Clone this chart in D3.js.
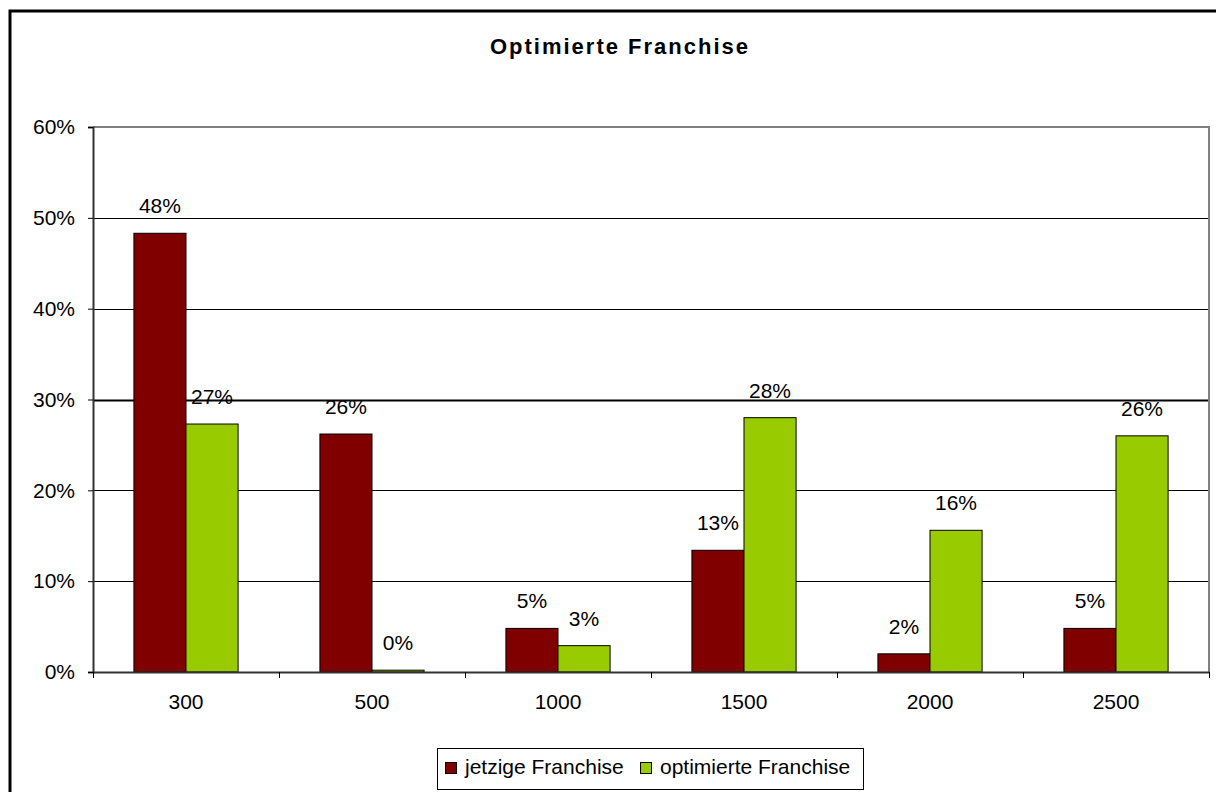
<!DOCTYPE html>
<meta charset="utf-8">
<script src="https://d3js.org/d3.v7.min.js"></script>
<style>
  body { margin: 0; background: #fff; }
  text { font-family: "Liberation Sans", Arial, sans-serif; }
</style>
<div id="my_dataviz"></div>
<script>

// data
var categories = ["300", "500", "1000", "1500", "2000", "2500"];
var seriesNames = ["jetzige Franchise", "optimierte Franchise"];
var jetzige = [0.483, 0.262, 0.048, 0.134, 0.020, 0.048];
var optimierte = [0.273, 0.002, 0.029, 0.280, 0.156, 0.260];
var yTicks = [0, 0.1, 0.2, 0.3, 0.4, 0.5, 0.6];

var W = 1216, H = 792;
var margin = {top: 127, right: 7, bottom: 120, left: 93},
    width = W - margin.left - margin.right,
    height = H - margin.top - margin.bottom;

var svg = d3.select("#my_dataviz")
  .append("svg")
    .attr("width", W)
    .attr("height", H);

// outer chart frame
svg.append("rect")
  .attr("x", 10).attr("y", 11)
  .attr("width", W + 20).attr("height", H + 20)
  .attr("fill", "none").attr("stroke", "#000").attr("stroke-width", 3);

// title
svg.append("text")
  .attr("x", 620).attr("y", 54)
  .attr("text-anchor", "middle")
  .style("font-size", "22px").style("font-weight", "bold")
  .style("letter-spacing", "2px")
  .text("Optimierte Franchise");

var g = svg.append("g")
  .attr("transform", "translate(" + margin.left + "," + margin.top + ")");

var x = d3.scaleBand()
  .domain(categories)
  .range([0, width])
  .paddingInner(0.44)
  .paddingOuter(0.22);

var xSub = d3.scaleBand()
  .domain(seriesNames)
  .range([0, x.bandwidth()]);

var y = d3.scaleLinear()
  .domain([0, 0.6])
  .range([height, 0]);

var color = d3.scaleOrdinal()
  .domain(seriesNames)
  .range(["#800000", "#99CC00"]);

// gridlines
g.append("g")
  .selectAll("line")
  .data(yTicks.slice(1, -1))
  .enter().append("line")
    .attr("x1", 0).attr("x2", width)
    .attr("y1", function(d) { return Math.round(y(d)) + 0.5; })
    .attr("y2", function(d) { return Math.round(y(d)) + 0.5; })
    .attr("stroke", "#000")
    .attr("stroke-width", function(d) { return Math.abs(d - 0.3) < 1e-9 ? 2 : 1; });

// plot frame (top and right)
g.append("path")
  .attr("d", "M0,0H" + width + "V" + height)
  .attr("fill", "none").attr("stroke", "#808080").attr("stroke-width", 2);

// bars
var rows = categories.map(function(c, i) {
  return {cat: c, values: [{key: seriesNames[0], value: jetzige[i]}, {key: seriesNames[1], value: optimierte[i]}]};
});

var groups = g.append("g")
  .selectAll("g")
  .data(rows)
  .enter().append("g")
    .attr("transform", function(d) { return "translate(" + x(d.cat) + ",0)"; });

groups.selectAll("rect")
  .data(function(d) { return d.values; })
  .enter().append("rect")
    .attr("x", function(d) { return xSub(d.key); })
    .attr("y", function(d) { return y(d.value); })
    .attr("width", xSub.bandwidth())
    .attr("height", function(d) { return height - y(d.value); })
    .attr("fill", function(d) { return color(d.key); })
    .attr("stroke", "#000")
    .attr("stroke-width", 1);

groups.selectAll(".lbl")
  .data(function(d) { return d.values; })
  .enter().append("text")
    .attr("class", "lbl")
    .attr("x", function(d) { return xSub(d.key) + xSub.bandwidth() / 2; })
    .attr("y", function(d) { return y(d.value) - 20; })
    .attr("text-anchor", "middle")
    .style("font-size", "21px")
    .text(function(d) { return Math.round(d.value * 100) + "%"; });

// y axis
var yAxis = g.append("g")
  .call(d3.axisLeft(y).tickValues(yTicks).tickFormat(d3.format(".0%")).tickSize(5).tickPadding(13));
yAxis.select(".domain").attr("stroke", "#333").attr("stroke-width", 2);
yAxis.selectAll(".tick line").attr("stroke", "#000");
yAxis.selectAll("text").style("font-size", "21px").attr("fill", "#000");

// x axis: ticks at category boundaries
var xAxis = g.append("g")
  .attr("transform", "translate(0," + height + ")")
  .call(d3.axisBottom(x).tickSize(0).tickPadding(22));
xAxis.select(".domain").attr("stroke", "#333").attr("stroke-width", 2);
xAxis.selectAll("text").style("font-size", "21px").attr("fill", "#000");

var step = x.step();
xAxis.selectAll(".sep")
  .data(d3.range(categories.length + 1))
  .enter().append("line")
    .attr("class", "sep")
    .attr("x1", function(i) { return Math.round(i * step) + 0.5; })
    .attr("x2", function(i) { return Math.round(i * step) + 0.5; })
    .attr("y1", 0).attr("y2", 6)
    .attr("stroke", "#000");

// legend
var legend = svg.append("g").attr("transform", "translate(437,748)");
legend.append("rect")
  .attr("x", 0.5).attr("y", 0.5).attr("width", 426).attr("height", 41)
  .attr("fill", "#fff").attr("stroke", "#000");

var legX = [8, 203];
seriesNames.forEach(function(name, i) {
  legend.append("rect")
    .attr("x", legX[i] + 0.5).attr("y", 14.5).attr("width", 11).attr("height", 11)
    .attr("fill", color(name)).attr("stroke", "#000");
  legend.append("text")
    .attr("x", legX[i] + 20).attr("y", 26)
    .style("font-size", "21px")
    .text(name);
});

</script>
